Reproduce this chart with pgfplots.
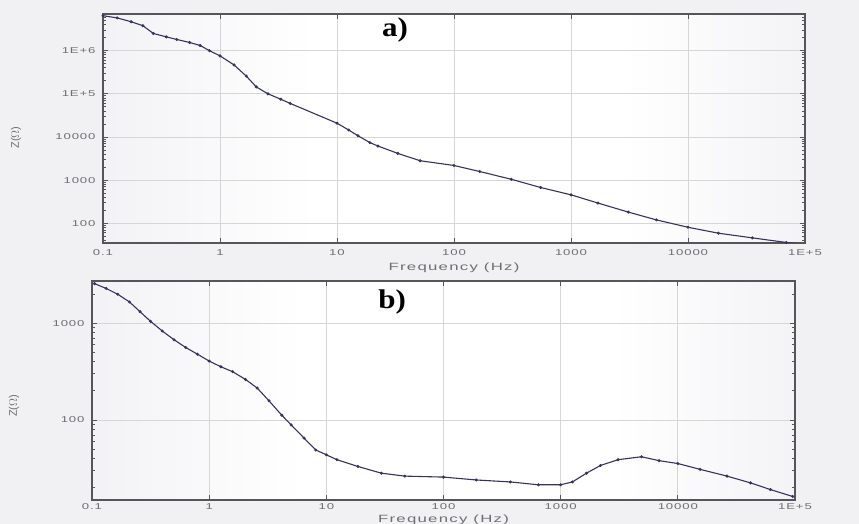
\documentclass[border=0pt]{standalone}
\usepackage{pgfplots}
\pgfplotsset{compat=1.18}
\usepackage{fontspec}
\setmainfont{Liberation Sans}
\newfontfamily\tickfont[FakeStretch=1.55,LetterSpace=10]{Liberation Sans}
\newfontfamily\lblfont[FakeStretch=1.6,LetterSpace=12]{Liberation Sans}
\newfontfamily\panelfont[FakeStretch=1.15]{Liberation Serif}
\definecolor{outerbg}{RGB}{241,241,243}
\definecolor{edgebg}{RGB}{222,222,231}
\definecolor{curve}{RGB}{52,52,95}
\definecolor{framec}{RGB}{85,85,90}
\definecolor{tickc}{RGB}{110,110,115}
\pgfdeclarehorizontalshading{bgshade}{100bp}{color(0bp)=(edgebg); color(40bp)=(white); color(62bp)=(white); color(100bp)=(edgebg)}

\pgfplotstableread{
f Z
0.1 6460000
0.132 5750000
0.174 4680000
0.219 3800000
0.269 2510000
0.347 2090000
0.427 1820000
0.55 1550000
0.676 1320000
0.813 1000000
1.0 759000
1.318 468000
1.679 257000
2.04 145000
2.57 100000
3.31 75000
3.98 60000
10 20900
12.6 14500
15.1 10700
19.1 7413
22.4 6166
33.1 4169
51.3 2818
100 2188
166 1585
309 1047
550 676
1000 457
1698 295
3090 182
5370 120
10000 81
18200 59
35480 46
69180 36
100000 33
}\tableA

\pgfplotstableread{
f Z
0.105 2570
0.132 2291
0.166 1995
0.209 1660
0.257 1318
0.316 1047
0.398 832
0.501 676
0.631 562
0.794 479
1.0 407
1.259 355
1.585 316
2.04 263
2.57 214
3.24 158
4.17 112
5.01 89
6.46 65
8.13 49
10 43.7
12.3 38.9
18.6 33.1
29.5 28.2
46.8 26.3
100 25.7
190 24.0
372 22.9
646 21.4
1000 21.4
1259 22.9
1660 28.2
2188 33.9
3090 38.9
4898 41.7
6918 38.0
10000 35.5
15490 30.9
26300 26.3
41690 22.4
61660 19.1
95500 16.2
}\tableB

\pgfplotsset{
  impstyle/.style={
    scale only axis,
    xmin=0.1, xmax=100000,
    axis background/.style={shading=bgshade},
    axis line style={framec, line width=1.3pt},
    grid=major,
    major grid style={draw=black!16, line width=0.9pt},
    tick align=inside,
    major tick length=5pt,
    minor tick length=3pt,
    every tick/.style={framec, line width=0.8pt},
    xtick={0.1,1,10,100,1000,10000,100000},
    xticklabels={0.1,1,10,100,1000,10000,1E+5},
    xminorticks=false,
    yminorticks=true,
    tick label style={text=tickc, font=\tickfont\fontsize{8.5}{9}\selectfont},
    yticklabel style={xshift=-4pt},
    label style={text=tickc},
    xlabel={\lblfont\fontsize{10.5}{11}\selectfont Frequency (Hz)},
    ylabel={\fontsize{11}{11}\selectfont Z($\Omega$)},
  },
}

\begin{document}
\begin{tikzpicture}
\fill[outerbg] (0,0) rectangle (859pt,524pt);
\useasboundingbox (0,0) rectangle (859pt,524pt);

\begin{axis}[xmode=log, ymode=log, impstyle,
  at={(103pt,281pt)}, anchor=south west,
  width=702pt, height=229pt,
  ymin=35, ymax=7080000,
  ytick={100,1000,10000,100000,1000000},
  yticklabels={100,1000,10000,1E+5,1E+6},
  minor ytick={40,50,60,70,80,90,200,300,400,500,600,700,800,900,2000,3000,4000,5000,6000,7000,8000,9000,20000,30000,40000,50000,60000,70000,80000,90000,200000,300000,400000,500000,600000,700000,800000,900000,2000000,3000000,4000000,5000000,6000000,7000000},
  xticklabel style={yshift=-3pt},
  xlabel style={at={(rel axis cs:0.5,0)}, anchor=north, yshift=-16pt},
  ylabel style={at={([xshift=-87pt]rel axis cs:0,0.46)}, anchor=center},
]
\addplot[curve, line width=1.1pt, mark=*, mark size=0.9pt, mark options={fill=curve!80!black}] table[x=f,y=Z] {\tableA};
\node[font=\panelfont\bfseries\fontsize{27}{27}\selectfont] at (rel axis cs:0.416,0.93) {a)};
\end{axis}

\begin{axis}[xmode=log, ymode=log, impstyle,
  at={(92pt,24pt)}, anchor=south west,
  width=703pt, height=219pt,
  ymin=14.9, ymax=2735,
  ytick={100,1000},
  yticklabels={100,1000},
  minor ytick={20,30,40,50,60,70,80,90,200,300,400,500,600,700,800,900,2000},
  xticklabel style={yshift=0pt},
  xlabel style={at={(rel axis cs:0.5,0)}, anchor=north, yshift=-11pt},
  ylabel style={at={([xshift=-78pt]rel axis cs:0,0.43)}, anchor=center},
]
\addplot[curve, line width=1.1pt, mark=*, mark size=0.9pt, mark options={fill=curve!80!black}] table[x=f,y=Z] {\tableB};
\node[font=\panelfont\bfseries\fontsize{27}{27}\selectfont] at (rel axis cs:0.427,0.904) {b)};
\end{axis}
\end{tikzpicture}
\end{document}
